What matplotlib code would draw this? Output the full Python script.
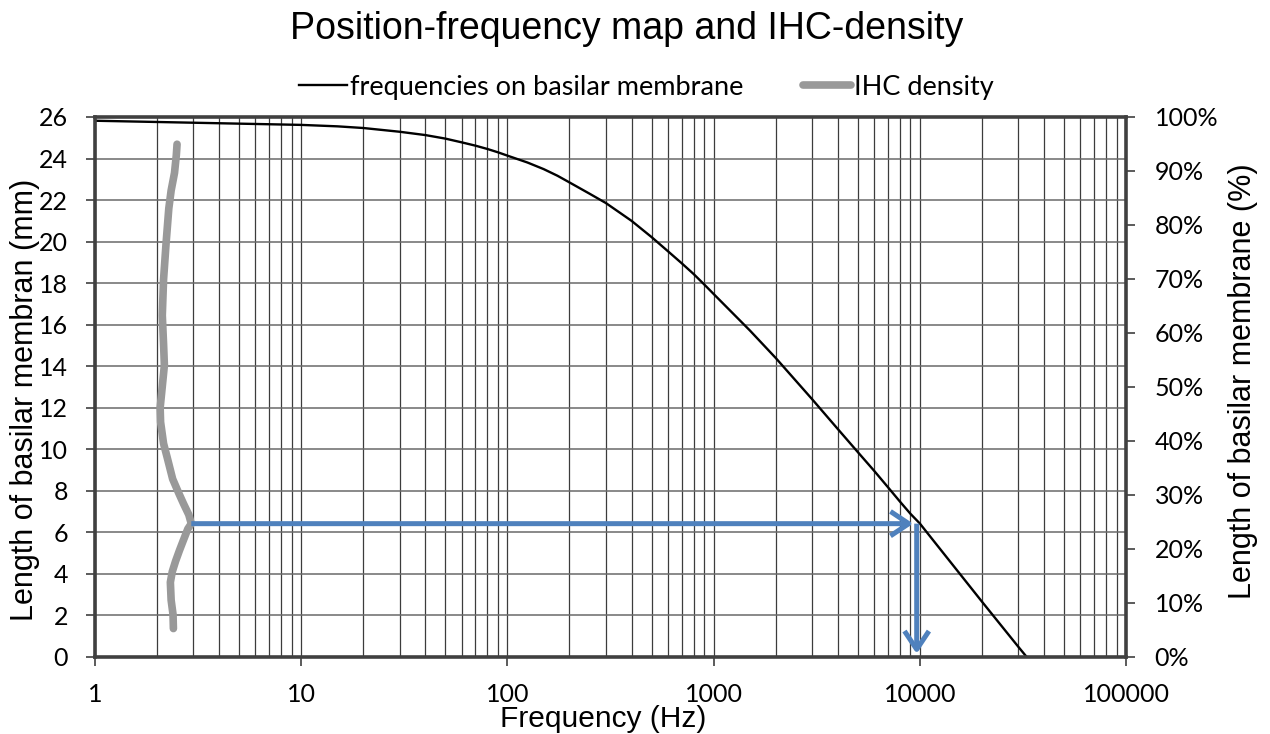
import matplotlib
matplotlib.use("Agg")
import matplotlib.pyplot as plt
from matplotlib.ticker import FixedLocator, FuncFormatter, NullFormatter
from matplotlib.lines import Line2D

# ---- data ----
freq_hz = [1, 2, 5, 10, 15, 20, 30, 40, 50, 60, 70, 80, 90, 100, 125, 150, 175,
           200, 250, 300, 350, 400, 500, 600, 700, 800, 900, 1000, 1500, 2000,
           3000, 4000, 5000, 6000, 7000, 8000, 9000, 10000, 20000, 30000, 33000]
position_mm = [25.82, 25.76, 25.68, 25.62, 25.55, 25.47, 25.29, 25.13, 24.96,
               24.78, 24.62, 24.46, 24.30, 24.14, 23.81, 23.49, 23.17, 22.85,
               22.31, 21.86, 21.40, 21.00, 20.22, 19.54, 18.96, 18.44, 17.94,
               17.48, 15.72, 14.40, 12.42, 10.98, 9.87, 8.97, 8.18, 7.49, 6.90,
               6.43, 2.67, 0.50, 0.00]

ihc_x = [2.40, 2.39, 2.34, 2.32, 2.37, 2.46, 2.57, 2.69, 2.82, 2.93, 2.85, 2.69,
         2.55, 2.38, 2.24, 2.15, 2.08, 2.07, 2.12, 2.17, 2.15, 2.12, 2.15, 2.21,
         2.28, 2.34, 2.43, 2.48, 2.50]
ihc_y = [1.37, 2.05, 2.74, 3.60, 4.11, 4.62, 5.14, 5.65, 6.17, 6.42, 6.85, 7.37,
         7.88, 8.57, 9.60, 10.28, 11.31, 12.00, 13.03, 14.05, 15.08, 16.45,
         18.17, 19.88, 21.60, 22.46, 23.31, 24.17, 24.69]

arrow_h = [(2.93, 6.42), (9300, 6.42)]     # horizontal arrow (start, tip)
arrow_v = [(9660, 6.42), (9660, 0.15)]     # vertical arrow (start, tip)

x_ticks = [1, 10, 100, 1000, 10000, 100000]
y_ticks = list(range(0, 27, 2))
pct_ticks = [i / 10 for i in range(11)]

title = "Position-frequency map and IHC-density"
xlabel = "Frequency (Hz)"
ylabel_left = "Length of basilar membran (mm)"
ylabel_right = "Length of basilar membrane (%)"
legend_labels = ["frequencies on basilar membrane", "IHC density"]

# ---- figure ----
W, H = 1270, 734
fig = plt.figure(figsize=(W / 100, H / 100), dpi=100)
L, R, T, B = 95, 1126, 117, 657
ax = fig.add_axes([L / W, 1 - B / H, (R - L) / W, (B - T) / H])

tick_font = "Lato"
label_font = "Liberation Sans"
frame_col = "#404040"
grid_col = "#3c3c3c"
blue = "#4F81BD"
gray = "#999999"

ax.set_xscale("log")
ax.set_xlim(1, 100000)
ax.set_ylim(0, 26)

# grid
minor_locs = [m * 10 ** e for e in range(0, 5) for m in range(2, 10)]
for x in minor_locs + x_ticks:
    ax.axvline(x, color=grid_col, lw=0.9, zorder=1)
for y in y_ticks:
    ax.axhline(y, color="#6a6a6a", lw=1.1, zorder=1)

ax.plot(freq_hz, position_mm, color="black", lw=1.7, zorder=4,
        solid_capstyle="round", solid_joinstyle="round")
ax.plot(ihc_x, ihc_y, color=gray, lw=5.5, zorder=3,
        solid_capstyle="round", solid_joinstyle="round")

ap = dict(arrowstyle="->,head_length=0.6,head_width=0.4", lw=3.6,
          color=blue, shrinkA=0, shrinkB=0, mutation_scale=22,
          capstyle="butt")
ax.annotate("", xy=arrow_h[1], xytext=arrow_h[0], arrowprops=ap, zorder=5)
ax.annotate("", xy=arrow_v[1], xytext=arrow_v[0], arrowprops=ap, zorder=5)

ax.xaxis.set_major_locator(FixedLocator(x_ticks))
ax.xaxis.set_minor_locator(FixedLocator(minor_locs))
ax.xaxis.set_minor_formatter(NullFormatter())
ax.xaxis.set_major_formatter(FuncFormatter(lambda v, p: f"{int(round(v))}"))
ax.yaxis.set_major_locator(FixedLocator(y_ticks))

TS = 18
ax.tick_params(axis="x", which="major", length=6.5, width=1.2, color=frame_col,
               direction="out", pad=12.5, labelsize=TS)
ax.tick_params(axis="x", which="minor", length=0)
ax.tick_params(axis="y", which="major", length=6.5, width=1.2, color=frame_col,
               direction="out", pad=13, labelsize=TS)
for lab in ax.get_xticklabels() + ax.get_yticklabels():
    lab.set_fontfamily(tick_font)

for s in ax.spines.values():
    s.set_color(frame_col)
    s.set_linewidth(2.6)
    s.set_zorder(6)

ax2 = ax.twinx()
ax2.set_ylim(0, 1)
ax2.yaxis.set_major_locator(FixedLocator(pct_ticks))
ax2.yaxis.set_major_formatter(FuncFormatter(lambda v, p: f"{int(round(v * 100))}%"))
ax2.tick_params(axis="y", length=6.5, width=1.2, color=frame_col, direction="out",
                pad=14, labelsize=TS)
for lab in ax2.get_yticklabels():
    lab.set_fontfamily(tick_font)
for s in ax2.spines.values():
    s.set_visible(False)

# titles and labels
fig.text(627 / W, 1 - 29 / H, title, ha="center", va="center", fontsize=27,
         fontfamily=label_font)
fig.text(603 / W, 1 - 719 / H, xlabel, ha="center", va="center", fontsize=21.5,
         fontfamily=label_font)
fig.text(25 / W, 1 - 400 / H, ylabel_left, ha="center", va="center",
         rotation=90, fontsize=22, fontfamily=label_font)
fig.text(1243 / W, 1 - 381 / H, ylabel_right, ha="center", va="center",
         rotation=90, fontsize=22, fontfamily=label_font)

handles = [Line2D([], [], color="black", lw=1.7),
           Line2D([], [], color=gray, lw=5.5, solid_capstyle="round")]
fig.legend(handles, legend_labels, loc="center", ncol=2,
           bbox_to_anchor=(646 / W, 1 - 87 / H), frameon=False,
           prop=dict(family=tick_font, size=19.5), handlelength=1.8,
           handletextpad=0.08, columnspacing=2.2)

fig.savefig("out.png", dpi=100)
